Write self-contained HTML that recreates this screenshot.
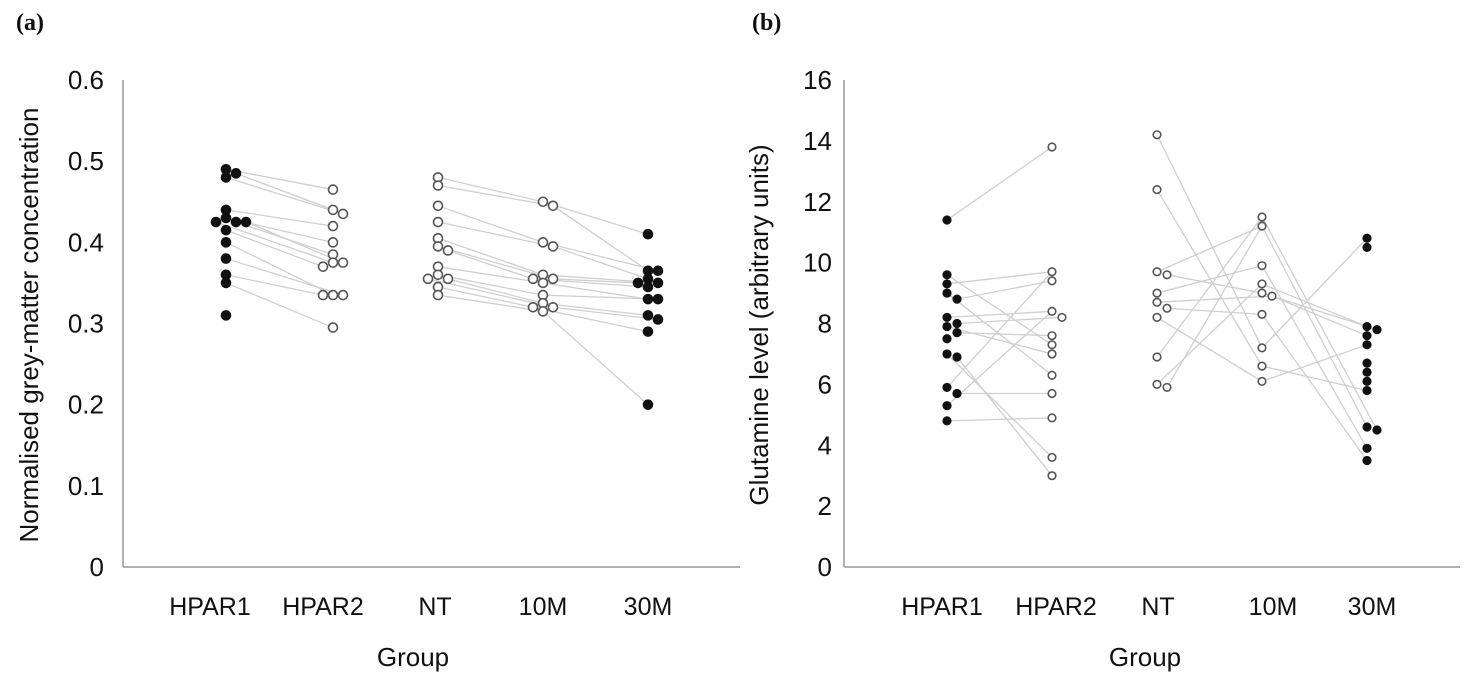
<!DOCTYPE html>
<html><head><meta charset="utf-8">
<style>
html,body{margin:0;padding:0;background:#fff;}
svg{display:block;}
text{font-family:"Liberation Sans",sans-serif;fill:#111;}
</style></head>
<body>
<svg id="chart" width="1479" height="686" viewBox="0 0 1479 686" xmlns="http://www.w3.org/2000/svg">
<text x="16" y="30" font-family="Liberation Serif" font-weight="bold" font-size="24" style="font-family:'Liberation Serif',serif">(a)</text>
<text x="752" y="30" font-weight="bold" font-size="24" style="font-family:'Liberation Serif',serif">(b)</text>
<g id="pa"></g>
<g id="pb"></g>
</svg>
<script>
const categories = ["HPAR1","HPAR2","NT","10M","30M"];
const filledGroups = [true,false,false,false,true];
// Panel (a): normalised grey-matter concentration
const aTicks = ["0","0.1","0.2","0.3","0.4","0.5","0.6"];
const aHPAR1 = [0.49,0.485,0.48,0.44,0.43,0.425,0.425,0.425,0.415,0.40,0.38,0.36,0.35,0.31];
const aHPAR2 = [0.465,0.44,0.435,0.42,0.40,0.385,0.375,0.375,0.37,0.335,0.335,0.335,0.295];
const aNT = [0.48,0.47,0.445,0.425,0.405,0.395,0.39,0.37,0.36,0.355,0.355,0.345,0.335];
const a10M = [0.45,0.445,0.40,0.395,0.36,0.355,0.355,0.35,0.335,0.325,0.32,0.32,0.315];
const a30M = [0.41,0.365,0.365,0.355,0.35,0.35,0.345,0.33,0.33,0.31,0.305,0.29,0.20];
// Panel (b): glutamine level
const bTicks = ["0","2","4","6","8","10","12","14","16"];
const bHPAR1 = [11.4,9.6,9.3,9.0,8.8,8.2,8.0,7.9,7.7,7.5,7.0,6.9,5.9,5.7,5.3,4.8];
const bHPAR2 = [13.8,9.7,9.4,8.4,8.2,7.6,7.3,7.0,6.3,5.7,4.9,3.6,3.0];
const bNT = [14.2,12.4,9.7,9.6,9.0,8.7,8.5,8.2,6.9,6.0,5.9];
const b10M = [11.5,11.2,9.9,9.3,9.0,8.9,8.3,7.2,6.6,6.1];
const b30M = [10.8,10.5,7.9,7.8,7.6,7.3,6.7,6.4,6.1,5.8,4.6,4.5,3.9,3.5];
// links [fromIndex,toIndex]
const bLinks01 = [[0,0],[1,6],[2,1],[3,8],[4,2],[5,3],[6,4],[7,7],[8,5],[10,11],[11,12],[12,1],[13,9],[14,3],[15,10]];
const bLinks23 = [[0,7],[1,8],[2,1],[3,4],[4,2],[5,5],[6,6],[7,9],[8,0],[9,3],[10,1]];
const bLinks34 = [[0,11],[1,10],[2,12],[3,2],[4,3],[5,4],[6,13],[7,0],[8,9],[9,5]];

const NS="http://www.w3.org/2000/svg";
function mk(parent,tag,attrs){const e=document.createElementNS(NS,tag);for(const k in attrs)e.setAttribute(k,attrs[k]);parent.appendChild(e);return e;}

function drawPanel(g,cfg){
  const {x0,x1,yTop,yBot,max,ticks,cats,series,links,title,titleX,groupX,tickRight} = cfg;
  const y = v => yBot - v/max*(yBot-yTop);
  const xs = cfg.catX;
  let ax=mk(g,'line',{x1:x0,y1:yTop,x2:x0,y2:yBot,stroke:'#999','stroke-width':1.5});
  
  
  let bx=mk(g,'line',{x1:x0,y1:yBot,x2:x1,y2:yBot,stroke:'#999','stroke-width':1.5});
  
  
  ticks.forEach((t,i)=>{
    const v=i*max/(ticks.length-1);
    const tt=mk(g,'text',{x:tickRight,y:y(v)+9,'text-anchor':'end','font-size':26});
    tt.textContent=t;
    
    
  });
  cats.forEach((c,i)=>{
    const tt=mk(g,'text',{x:cfg.labelX[i],y:615,'text-anchor':'middle','font-size':25});
    tt.textContent=c;
    
    
  });
  const gt=mk(g,'text',{x:groupX,y:666,'text-anchor':'middle','font-size':26});
  gt.textContent='Group';
  
  
  const yt=mk(g,'text',{x:0,y:0,'text-anchor':'middle','font-size':26,transform:`translate(${titleX},325) rotate(-90)`});
  yt.textContent=title;
  
  
  // positions with simple swarm
  const pos = series.map((arr,gi)=>{
    const placed=[];
    return arr.map(v=>{
      const py=y(v);let px=xs[gi];
      const offs=[0,10,-10,20,-20];
      for(const o of offs){
        if(!placed.some(p=>Math.abs(p[0]-(xs[gi]+o))<8&&Math.abs(p[1]-py)<7)){px=xs[gi]+o;break;}
      }
      placed.push([px,py]);return [px,py];
    });
  });
  links.forEach(([a,b,pairs])=>{
    pairs.forEach(([i,j])=>{
      if(!pos[a][i]||!pos[b][j])return;
      const l=mk(g,'line',{x1:pos[a][i][0],y1:pos[a][i][1],x2:pos[b][j][0],y2:pos[b][j][1],stroke:'#cfcfcf','stroke-width':1.3});
      
      
    });
  });
  pos.forEach((arr,gi)=>{
    arr.forEach(([px,py])=>{
      const c=mk(g,'circle',{cx:px,cy:py,r:cfg.r,fill:filledGroups[gi]?'#111':'#fff',stroke:filledGroups[gi]?'#111':'#555','stroke-width':1.6});
      
      
    });
  });
}
function seq(n){return [...Array(n).keys()].map(i=>[i,i]);}
drawPanel(document.getElementById('pa'),{
  x0:123,x1:740,yTop:80,yBot:567,max:0.6,ticks:aTicks,cats:categories,
  series:[aHPAR1,aHPAR2,aNT,a10M,a30M],
  catX:[226,333,438,543,648],labelX:[210,323,435,543,648],
  links:[[0,1,seq(13)],[2,3,seq(13)],[3,4,seq(13)]],
  title:'Normalised grey-matter concentration',titleX:38,groupX:413,tickRight:104,r:4.5
});
drawPanel(document.getElementById('pb'),{
  x0:844,x1:1460,yTop:80,yBot:567,max:16,ticks:bTicks,cats:categories,
  series:[bHPAR1,bHPAR2,bNT,b10M,b30M],
  catX:[947,1052,1157,1262,1367],labelX:[942,1056,1158,1273,1372],
  links:[[0,1,bLinks01],[2,3,bLinks23],[3,4,bLinks34]],
  title:'Glutamine level (arbitrary units)',titleX:768,groupX:1145,tickRight:832,r:3.8
});
</script>
</body></html>
